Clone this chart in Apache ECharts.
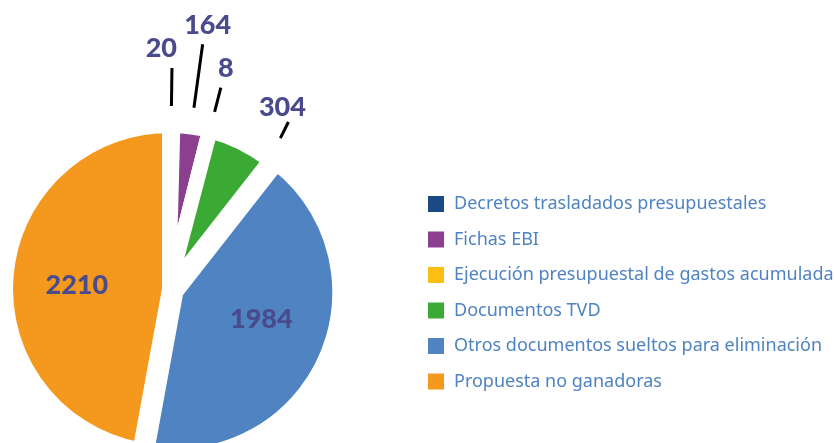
<!DOCTYPE html>
<html>
<head>
<meta charset="utf-8">
<script src="https://cdn.jsdelivr.net/npm/echarts@6/dist/echarts.min.js"></script>
<style>
  html, body { margin: 0; padding: 0; background: #fff; }
  #chart { width: 834px; height: 443px; }
</style>
</head>
<body>
<div id="chart"></div>
<script>
// datos
const categories = [
  'Decretos trasladados presupuestales',
  'Fichas EBI',
  'Ejecución presupuestal de gastos acumulada',
  'Documentos TVD',
  'Otros documentos sueltos para eliminación',
  'Propuesta no ganadoras'
]
const values = [20, 164, 8, 304, 1984, 2210]
const colors = ['#1a4a85', '#8b3f8e', '#fbbf14', '#3aaa35', '#4f83c1', '#f5991e']
// largo de la linea de cada etiqueta exterior
const lineLengths = [38, 64, 25, 18, 0, 0]

const center = [169, 289]
const labelColor = '#4a4b8c'
const labelFont = {
  color: labelColor,
  fontFamily: 'Lato',
  fontWeight: 900,
  fontSize: 27
}

let myChart = echarts.init(document.getElementById('chart'))

// sectores con las etiquetas interiores
const pieData = categories.map((name, i) => ({
  name: name,
  value: values[i],
  selected: i === 4,
  itemStyle: { color: colors[i] },
  label: { show: i >= 4 }
}))

// anillo invisible que sostiene las etiquetas exteriores
function ghostPie (c, shown, pad) {
  return {
    type: 'pie',
    center: c,
    radius: 183,
    startAngle: 90,
    clockwise: true,
    silent: true,
    avoidLabelOverlap: false,
    itemStyle: { color: 'rgba(0,0,0,0)', borderWidth: 0 },
    label: Object.assign({ position: 'outside', formatter: '{c}', padding: pad }, labelFont),
    labelLine: { lineStyle: { color: '#000', width: 3 } },
    labelLayout: function (p) {
      return { align: p.dataIndex === 0 ? 'right' : 'center', verticalAlign: 'bottom' }
    },
    data: categories.map((name, i) => ({
      name: name,
      value: values[i],
      label: { show: shown.indexOf(i) >= 0 },
      labelLine: { show: shown.indexOf(i) >= 0, length: lineLengths[i], length2: 0 }
    }))
  }
}

myChart.setOption({
  animation: false,
  color: colors,
  legend: {
    orient: 'vertical',
    left: 421,
    top: 189,
    itemWidth: 18,
    itemHeight: 18,
    itemGap: 15.5,
    icon: 'rect',
    data: categories,
    textStyle: {
      color: '#4f83c1',
      fontFamily: 'Noto Sans',
      fontSize: 18,
      padding: [0, 0, 0, 4]
    }
  },
  series: [
    {
      type: 'pie',
      center: center,
      radius: 163,
      startAngle: 90,
      clockwise: true,
      selectedMode: 'multiple',
      selectedOffset: 8,
      silent: true,
      emphasis: { scale: false },
      itemStyle: { borderColor: '#fff', borderWidth: 14 },
      select: { itemStyle: { borderColor: '#fff', borderWidth: 14 } },
      label: Object.assign({ position: 'inside', formatter: '{c}' }, labelFont),
      labelLine: { show: false },
      labelLayout: function (p) {
        if (p.dataIndex === 5) return { dx: -8, dy: 4 }
        if (p.dataIndex === 4) return { dx: 8, dy: -8 }
        return {}
      },
      data: pieData
    },
    ghostPie(center, [0, 1, 2], [0, 0, 6, 0]),
    // la etiqueta 304 va desplazada a la derecha
    ghostPie([center[0] + 30, center[1] + 13], [3], [0, 22, 1, 0])
  ]
})
</script>
</body>
</html>
